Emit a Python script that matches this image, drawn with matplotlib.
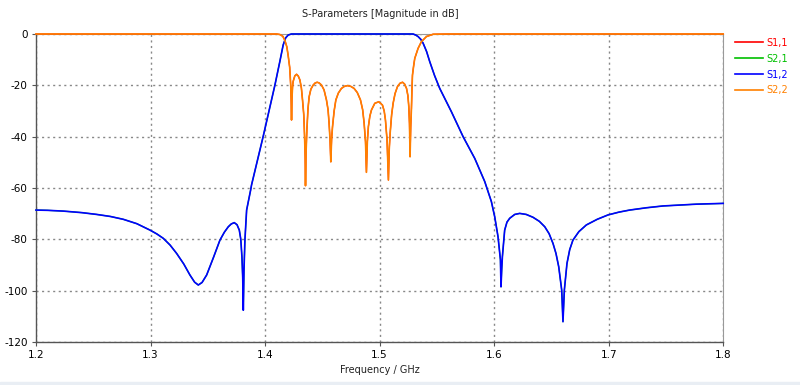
import matplotlib
matplotlib.use("Agg")
import matplotlib.pyplot as plt
from matplotlib.patches import Rectangle

# S1,2 (blue), freq in GHz / magnitude in dB
f12 = [1.2, 1.21, 1.2238, 1.24, 1.253, 1.265, 1.2762, 1.288, 1.2995, 1.3055,
       1.3111, 1.317, 1.3228, 1.329, 1.3344, 1.3385, 1.3417, 1.345, 1.349, 1.355,
       1.3606, 1.3645, 1.3679, 1.3705, 1.3731, 1.3755, 1.3775, 1.3788, 1.3798, 1.3805,
       1.381, 1.3816, 1.3824, 1.3839, 1.3874, 1.3882, 1.3983, 1.4086, 1.413, 1.4158,
       1.418, 1.4202, 1.423, 1.47, 1.5, 1.5292, 1.5315, 1.5336, 1.536, 1.538,
       1.541, 1.5438, 1.548, 1.5525, 1.5627, 1.5729, 1.5831, 1.5918, 1.5976, 1.6005,
       1.6034, 1.6055, 1.606, 1.6066, 1.6072, 1.6092, 1.6112, 1.6136, 1.618, 1.6223,
       1.628, 1.6339, 1.6395, 1.6442, 1.648, 1.6514, 1.654, 1.6564, 1.659, 1.6601,
       1.6613, 1.6636, 1.666, 1.6688, 1.674, 1.6805, 1.69, 1.6994, 1.709, 1.7183,
       1.733, 1.7474, 1.7765, 1.8]
s12 = [-68.6, -68.7, -69.0, -69.6, -70.3, -71.1, -72.2, -73.9, -76.4, -77.9,
       -79.6, -82.2, -85.5, -89.6, -93.9, -96.7, -97.8, -96.8, -93.9, -87.0,
       -80.3, -77.2, -75.1, -74.0, -73.5, -74.3, -76.4, -80.0, -86.8, -95.0,
       -107.6, -92.0, -80.3, -68.6, -60.8, -58.8, -40.0, -19.9, -10.5, -4.3,
       -1.5, -0.4, 0.0, 0.0, 0.0, 0.0, -0.4, -1.0, -2.1, -3.6,
       -6.8, -10.8, -16.2, -21.2, -30.3, -40.0, -48.5, -57.5, -65.3, -71.2,
       -79.0, -88.0, -98.5, -92.0, -86.8, -76.4, -73.3, -71.8, -70.3, -69.9,
       -70.3, -71.4, -73.0, -75.1, -77.8, -81.6, -85.5, -90.7, -99.8, -112.1,
       -99.8, -89.4, -84.0, -80.3, -77.0, -74.4, -72.2, -70.5, -69.4, -68.6,
       -67.7, -67.0, -66.3, -66.0]

# S2,2 (orange)
f22 = [1.2, 1.41, 1.4129, 1.4155, 1.4173, 1.419, 1.4202, 1.4215, 1.4224, 1.4228,
       1.4231, 1.4235, 1.424, 1.4245, 1.426, 1.4275, 1.429, 1.4304, 1.4317, 1.4327,
       1.4338, 1.4345, 1.435, 1.4353, 1.4358, 1.4365, 1.4375, 1.4385, 1.44, 1.442,
       1.4437, 1.4455, 1.4473, 1.4493, 1.4515, 1.4536, 1.455, 1.4559, 1.4567, 1.4574,
       1.4581, 1.4589, 1.4603, 1.4618, 1.464, 1.4667, 1.4693, 1.472, 1.4748, 1.4777,
       1.4805, 1.4833, 1.4852, 1.4865, 1.4877, 1.4885, 1.4893, 1.4902, 1.4915, 1.4929,
       1.4958, 1.4993, 1.5025, 1.504, 1.5051, 1.5065, 1.5077, 1.5084, 1.5092, 1.5105,
       1.5118, 1.5135, 1.5156, 1.5178, 1.52, 1.5218, 1.5235, 1.5247, 1.5255, 1.5261,
       1.5266, 1.5272, 1.5278, 1.5283, 1.5287, 1.5297, 1.5307, 1.5336, 1.5365, 1.5409,
       1.5467, 1.56, 1.8]
s22 = [0.0, 0.0, -0.2, -0.9, -2.5, -5.0, -8.5, -13.0, -20.0, -26.0,
       -33.5, -25.0, -20.5, -18.5, -16.3, -15.7, -16.4, -17.9, -21.0, -25.7,
       -31.5, -40.0, -48.0, -59.1, -46.0, -37.4, -29.0, -24.4, -21.5, -19.9,
       -19.1, -18.8, -19.1, -19.9, -21.8, -25.7, -29.5, -34.8, -41.0, -49.8,
       -41.0, -36.1, -30.0, -25.7, -23.0, -21.2, -20.4, -20.1, -20.4, -21.2,
       -22.8, -25.7, -29.5, -34.8, -42.0, -53.9, -42.0, -36.1, -32.0, -29.6,
       -27.0, -26.4, -27.7, -30.0, -33.5, -41.3, -56.9, -45.0, -38.7, -31.5,
       -27.0, -23.2, -20.5, -19.2, -18.8, -19.5, -21.2, -24.0, -28.3, -35.0,
       -47.8, -36.0, -29.0, -21.0, -16.0, -12.5, -9.5, -5.6, -3.0, -1.0,
       -0.1, 0.0, 0.0]

# S1,1 and S2,1 sit underneath (symmetric filter)
f11, s11 = f22, s22
f21, s21 = f12, s12

labels = ["S1,1", "S2,1", "S1,2", "S2,2"]
colors = ["#ff0000", "#00c000", "#0000ff", "#ff8000"]
xticks = [1.2, 1.3, 1.4, 1.5, 1.6, 1.7, 1.8]
yticks = [0, -20, -40, -60, -80, -100, -120]

plt.rcParams['font.family'] = ['DejaVu Sans']
fig = plt.figure(figsize=(8, 3.85), dpi=100)
ax = fig.add_axes([0.045, 0.1117, 0.859, 0.8])

ax.plot(f11, s11, color=colors[0], lw=0.9, label=labels[0], clip_on=False, zorder=3)
ax.plot(f21, s21, color=colors[1], lw=0.9, label=labels[1], clip_on=False, zorder=3)
ax.plot(f12, s12, color=colors[2], lw=1.2, label=labels[2], clip_on=False, zorder=3)
ax.plot(f22, s22, color=colors[3], lw=1.2, label=labels[3], clip_on=False, zorder=3)

ax.set_xlim(1.2, 1.8)
ax.set_ylim(-120, 0)
ax.set_xticks(xticks)
ax.set_yticks(yticks)
ax.set_xticklabels([f"{t:g}" for t in xticks])
ax.set_yticklabels([str(t) for t in yticks])
ax.tick_params(labelsize=7.5, length=3, color="#555555", pad=3)
ax.grid(True, color="#888888", linestyle=(0, (1.5, 2.5)), linewidth=1.0)
for side in ["top", "right"]:
    ax.spines[side].set_color("#999999")
for side in ["left", "bottom"]:
    ax.spines[side].set_color("#555555")
    ax.spines[side].set_linewidth(1.0)

fig.text(0.475, 0.963, "S-Parameters [Magnitude in dB]", ha="center", va="center",
         fontsize=7, color="#222222")
fig.text(0.475, 0.04, "Frequency / GHz", ha="center", va="center",
         fontsize=7, color="#222222")

leg = ax.legend(loc="upper left", bbox_to_anchor=(1.012, 1.0), frameon=False,
                fontsize=7, handlelength=2.8, handletextpad=0.4,
                labelspacing=0.6, borderaxespad=0.0)
for line in leg.get_lines():
    line.set_linewidth(1.2)
for txt, c in zip(leg.get_texts(), colors):
    txt.set_color(c)

fig.patches.append(Rectangle((0, 0), 1, 0.008, transform=fig.transFigure,
                             color="#e9eef4", zorder=0))

fig.savefig("out.png", dpi=100)
